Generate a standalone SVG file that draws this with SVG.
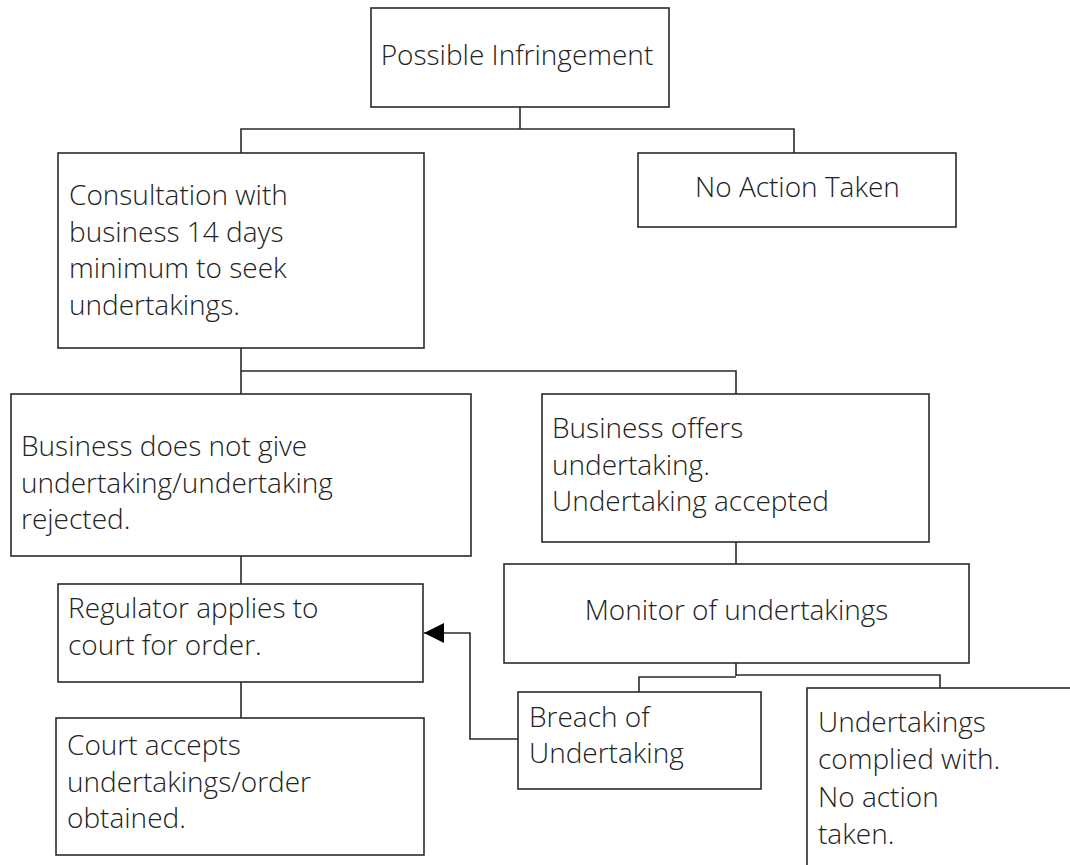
<svg xmlns="http://www.w3.org/2000/svg" width="1070" height="865" viewBox="0 0 1070 865">
<defs>
<style>
.box{fill:#fff;stroke:#2a2a2a;stroke-width:1.6}
.ln{fill:none;stroke:#2a2a2a;stroke-width:1.6}
text{font-family:"Open Sans","Noto Sans","Liberation Sans",sans-serif;font-size:28px;font-weight:300;fill:#222}
.c{text-anchor:middle}
</style>
<marker id="ah" viewBox="0 0 10 10" refX="10" refY="5" markerWidth="21" markerHeight="20" markerUnits="userSpaceOnUse" orient="auto">
<path d="M0,0 L10,5 L0,10 z" fill="#000"/>
</marker>
</defs>
<rect width="1070" height="865" fill="#fff"/>
<g id="connectors">
<path class="ln" d="M520,107 V129 M241,153 V129 H794 V153"/>
<path class="ln" d="M241,348 V371 M241,394 V371 H736 V394"/>
<path class="ln" d="M241,556 V584"/>
<path class="ln" d="M241,682 V718"/>
<path class="ln" d="M736,542 V564"/>
<path class="ln" d="M736,663 V676 M639,692 V677 H736 M736,675 H940 V688"/>
<path class="ln" d="M518,739 H470 V633 H424" marker-end="url(#ah)"/>
</g>
<g id="n1"><rect class="box" x="371" y="8" width="298" height="99"/><text class="c" x="517" y="65">Possible Infringement</text></g>
<g id="n2"><rect class="box" x="638" y="153" width="318" height="74"/><text x="695" y="197">No Action Taken</text></g>
<g id="n3"><rect class="box" x="58" y="153" width="366" height="195"/>
<text x="69" y="205">Consultation with</text><text x="69" y="242">business 14 days</text><text x="69" y="278">minimum to seek</text><text x="69" y="315">undertakings.</text></g>
<g id="n4"><rect class="box" x="11" y="394" width="460" height="162"/>
<text x="21" y="456">Business does not give</text><text x="21" y="492.5">undertaking/undertaking</text><text x="21" y="529">rejected.</text></g>
<g id="n5"><rect class="box" x="542" y="394" width="387" height="148"/>
<text x="552" y="438">Business offers</text><text x="552" y="474.5">undertaking.</text><text x="552" y="511">Undertaking accepted</text></g>
<g id="n6"><rect class="box" x="504" y="564" width="465" height="99"/><text class="c" x="736.5" y="620">Monitor of undertakings</text></g>
<g id="n7"><rect class="box" x="58" y="584" width="365" height="98"/>
<text x="68" y="618">Regulator applies to</text><text x="68" y="655">court for order.</text></g>
<g id="n8"><rect class="box" x="56" y="718" width="368" height="137"/>
<text x="67" y="755">Court accepts</text><text x="67" y="792">undertakings/order</text><text x="67" y="828">obtained.</text></g>
<g id="n9"><rect class="box" x="518" y="692" width="243" height="97"/>
<text x="529" y="727">Breach of</text><text x="529" y="763">Undertaking</text></g>
<g id="n10"><rect class="box" x="807" y="688" width="300" height="300"/>
<text x="818" y="732">Undertakings</text><text x="818" y="769">complied with.</text><text x="818" y="807">No action</text><text x="818" y="844">taken.</text></g>
</svg>
